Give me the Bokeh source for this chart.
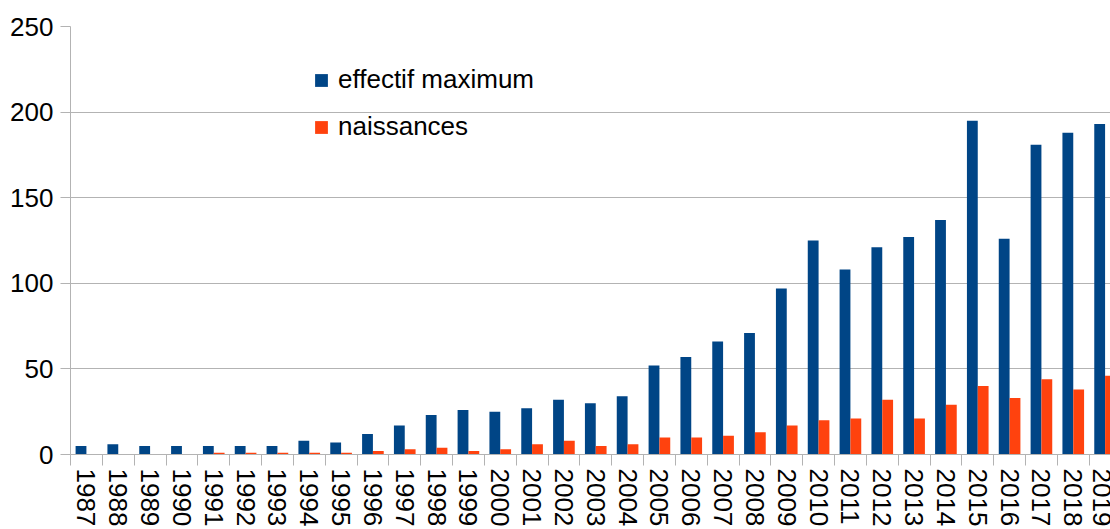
from bokeh.plotting import figure
from bokeh.models import ColumnDataSource, FixedTicker, Range1d, Legend, LegendItem
from bokeh.transform import dodge
from bokeh.embed import file_html
from bokeh.resources import INLINE

years = ["1987", "1988", "1989", "1990", "1991", "1992", "1993", "1994", "1995",
         "1996", "1997", "1998", "1999", "2000", "2001", "2002", "2003", "2004",
         "2005", "2006", "2007", "2008", "2009", "2010", "2011", "2012", "2013",
         "2014", "2015", "2016", "2017", "2018", "2019"]
effectif_maximum = [5, 6, 5, 5, 5, 5, 5, 8, 7, 12, 17, 23, 26, 25, 27, 32, 30, 34,
                    52, 57, 66, 71, 97, 125, 108, 121, 127, 137, 195, 126, 181, 188, 193]
naissances = [0, 0, 0, 0, 1, 1, 1, 1, 1, 2, 3, 4, 2, 3, 6, 8, 5, 6,
              10, 10, 11, 13, 17, 20, 21, 32, 21, 29, 40, 33, 44, 38, 46]
y_ticks = [0, 50, 100, 150, 200, 250]

FONT = "Liberation Sans"
GRID = "#b3b3b3"

n = len(years)
centers = [i + 0.5 for i in range(n)]
bounds = [float(i) for i in range(n)]
src = ColumnDataSource(dict(x=centers, eff=effectif_maximum, nai=naissances))

p = figure(width=1110, height=529, output_backend="svg", toolbar_location=None,
           x_range=Range1d(0, n - 0.33), y_range=Range1d(0, 250),
           min_border_left=70, min_border_right=0, min_border_top=26,
           min_border_bottom=0, background_fill_color="white",
           border_fill_color="white")
p.outline_line_color = None

r1 = p.vbar(x=dodge("x", -0.17), top="eff", width=0.34, source=src,
            fill_color="#004586", line_color=None)
r2 = p.vbar(x=dodge("x", 0.17), top="nai", width=0.34, source=src,
            fill_color="#ff420e", line_color=None)

# x axis
xa = p.xaxis[0]
xa.ticker = FixedTicker(ticks=centers, minor_ticks=bounds)
xa.major_label_overrides = {c: y for c, y in zip(centers, years)}
xa.major_label_orientation = "vertical"
xa.major_label_text_font = FONT
xa.major_label_text_font_size = "26px"
xa.major_label_text_color = "black"
xa.major_label_standoff = 3
xa.major_tick_out = 0
xa.major_tick_in = 0
xa.minor_tick_out = 11
xa.minor_tick_in = 0
xa.minor_tick_line_color = GRID
xa.axis_line_color = GRID

# y axis
ya = p.yaxis[0]
ya.ticker = FixedTicker(ticks=y_ticks)
ya.major_label_text_font = FONT
ya.major_label_text_font_size = "26px"
ya.major_label_text_color = "black"
ya.major_label_standoff = 7
ya.major_tick_out = 10
ya.major_tick_in = 0
ya.major_tick_line_color = GRID
ya.minor_tick_line_color = None
ya.axis_line_color = GRID

p.xgrid.visible = False
p.ygrid.ticker = FixedTicker(ticks=y_ticks)
p.ygrid.grid_line_color = GRID

legend = Legend(items=[LegendItem(label="effectif maximum", renderers=[r1]),
                       LegendItem(label="naissances", renderers=[r2])],
                location=(243, 312), orientation="vertical",
                glyph_width=16, glyph_height=16, label_height=30,
                spacing=16, label_standoff=9, padding=0, margin=0,
                border_line_alpha=0, background_fill_alpha=0,
                label_text_font=FONT, label_text_font_size="26px",
                label_text_color="black")
p.add_layout(legend)

open("out.html", "w").write(file_html(p, INLINE))
